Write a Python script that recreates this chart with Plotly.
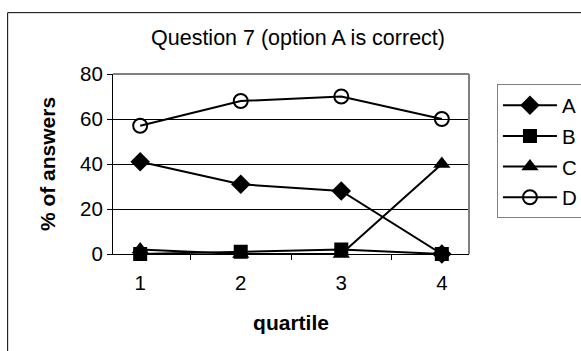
import plotly.graph_objects as go

# Answer shares (%) per quartile for each option of question 7
quartiles = ["1", "2", "3", "4"]
option_a = [41, 31, 28, 0]
option_b = [0, 1, 2, 0]
option_c = [2, 0, 0, 40]
option_d = [57, 68, 70, 60]

W, H = 581, 351
L, R, T, B = 112.5, 469, 73.5, 254  # plot area in pixels

series = [
    ("A", option_a, dict(symbol="diamond", size=15, color="black")),
    ("B", option_b, dict(symbol="square", size=14, color="black")),
    ("C", option_c, dict(symbol="triangle-up", size=15, color="black")),
    ("D", option_d, dict(symbol="circle-open", size=14, color="black",
                         line=dict(color="black", width=2))),
]

fig = go.Figure()
for name, vals, marker in series:
    fig.add_trace(go.Scatter(
        x=quartiles, y=vals, name=name, mode="lines+markers",
        line=dict(color="black", width=2), marker=marker,
        legendgroup=name, cliponaxis=False,
    ))

def px_x(p):
    return (p - L) / (R - L)

def px_y(p):
    return (B - p) / (B - T)

font = "Liberation Sans, Arial, sans-serif"

fig.update_layout(
    width=W, height=H,
    margin=dict(l=L, r=W - R, t=T, b=H - B, autoexpand=False),
    paper_bgcolor="white", plot_bgcolor="white",
    font=dict(family=font, size=20, color="black"),
    title=dict(text="Question 7 (option A is correct)", x=298 / W, xanchor="center",
               y=1 - 37 / H, yanchor="middle", font=dict(size=21.5)),
    showlegend=True,
    legend=dict(x=px_x(497), y=px_y(84), xanchor="left", yanchor="top",
                bordercolor="#808080", borderwidth=1, bgcolor="white",
                traceorder="grouped", tracegroupgap=1, itemwidth=54,
                font=dict(size=20.5)),
    xaxis=dict(type="category", tickson="boundaries", ticks="outside", ticklen=5,
               tickcolor="black", showline=True, linecolor="black", linewidth=1,
               showgrid=False, zeroline=False, ticklabelstandoff=10,
               title=dict(text="<b>quartile</b>", font=dict(size=21), standoff=22),
               tickfont=dict(size=20.5)),
    yaxis=dict(range=[0, 80], dtick=20, ticks="outside", ticklen=5, tickcolor="black",
               showline=True, linecolor="black", linewidth=1,
               showgrid=True, gridcolor="black", gridwidth=1, zeroline=False,
               title=dict(text="<b>% of answers</b>", font=dict(size=21), standoff=18),
               tickfont=dict(size=20.5)),
)

# grey top and right edges of the plot area
fig.add_shape(type="line", xref="paper", yref="paper", x0=0, x1=1, y0=1, y1=1,
              line=dict(color="#808080", width=2))
fig.add_shape(type="line", xref="paper", yref="paper", x0=1, x1=1, y0=0, y1=1,
              line=dict(color="#808080", width=2))
# outer chart frame
fig.add_shape(type="rect", xref="paper", yref="paper",
              x0=px_x(7), x1=px_x(W + 5), y0=px_y(H + 5), y1=px_y(12),
              line=dict(color="black", width=1), layer="below")

fig.write_html("out.html")
